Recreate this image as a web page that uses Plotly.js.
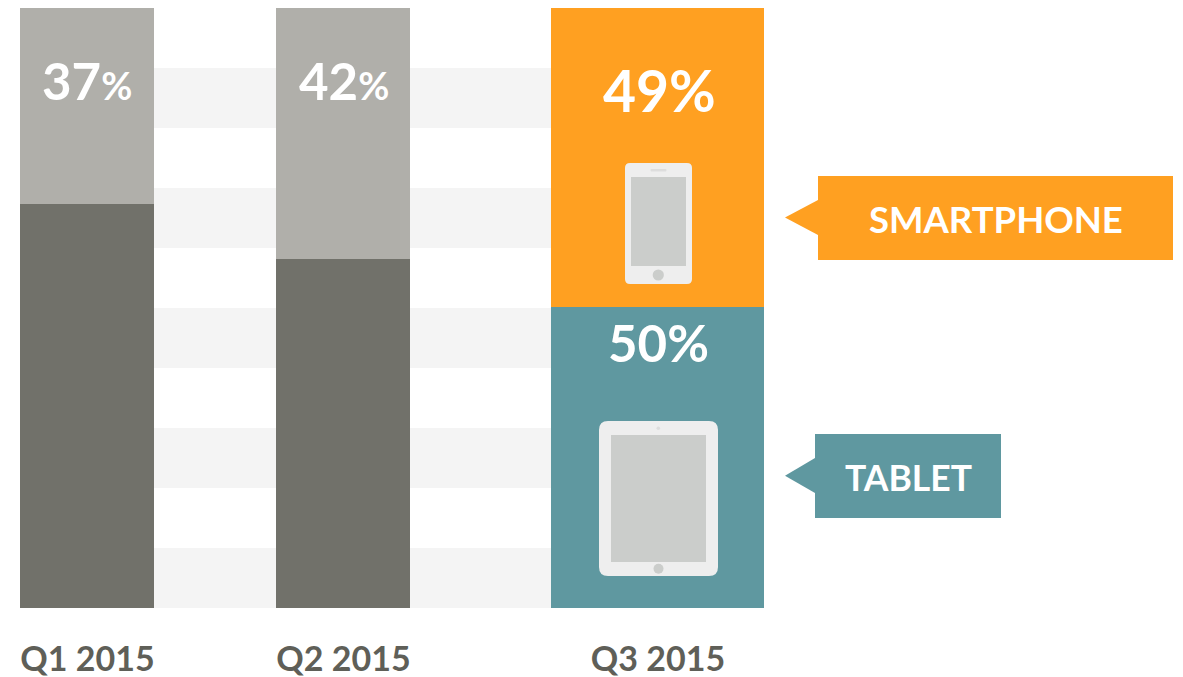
<!DOCTYPE html>
<html>
<head>
<meta charset="utf-8">
<script src="https://cdn.plot.ly/plotly-3.0.1.min.js"></script>
<style>html,body{margin:0;padding:0;background:#fff;overflow:hidden}#chart{width:1183px;height:677px}</style>
</head>
<body>
<div id="chart"></div>
<script>
// Data
const quarters = ['Q1 2015', 'Q2 2015', 'Q3 2015'];
const tabletShare = [67.3, 58.2, 50.2];
const smartphoneShare = [32.7, 41.8, 49.8];
const smartphoneLabels = ['37%', '42%', '49%'];
const tabletLabel = '50%';
const seriesNames = ['TABLET', 'SMARTPHONE'];

// Layout of the bars (x axis is in px)
const barCentres = [87, 343, 657.5];
const barWidths = [134, 134, 213];
const ORANGE = '#ffa021', TEAL = '#5f98a0', DARK = '#71716a', LIGHT = '#b0afaa';
const FONT = 'Lato, sans-serif';

const py = p => (608 - p) / 6;            // px row -> y axis value
const rr = (x0, y0, x1, y1, r) => {       // rounded rectangle
  const X = v => v, Y = py;
  return `M${X(x0 + r)},${Y(y0)} L${X(x1 - r)},${Y(y0)} Q${X(x1)},${Y(y0)} ${X(x1)},${Y(y0 + r)} ` +
    `L${X(x1)},${Y(y1 - r)} Q${X(x1)},${Y(y1)} ${X(x1 - r)},${Y(y1)} L${X(x0 + r)},${Y(y1)} ` +
    `Q${X(x0)},${Y(y1)} ${X(x0)},${Y(y1 - r)} L${X(x0)},${Y(y0 + r)} Q${X(x0)},${Y(y0)} ${X(x0 + r)},${Y(y0)} Z`;
};
const box = (x0, y0, x1, y1, color, layer) => ({type: 'rect', xref: 'x', yref: 'y', x0, x1, y0: py(y0), y1: py(y1),
  fillcolor: color, line: {width: 0}, layer: layer || 'above'});
const path = (d, color) => ({type: 'path', xref: 'x', yref: 'y', path: d, fillcolor: color, line: {width: 0}, layer: 'above'});
const circle = (cx, cy, r, color) => ({type: 'circle', xref: 'x', yref: 'y', x0: cx - r, x1: cx + r, y0: py(cy + r), y1: py(cy - r),
  fillcolor: color, line: {width: 0}, layer: 'above'});
const tri = (tx, ty, bx, b0, b1, color) => path(`M${tx},${py(ty)} L${bx},${py(b0)} L${bx},${py(b1)} Z`, color);

const shapes = [];
// striped background
[[68, 128], [188, 248], [308, 368], [428, 488], [548, 608]].forEach(b => shapes.push(box(20, b[0], 551, b[1], '#f4f4f4', 'below')));
// phone icon
shapes.push(path(rr(625, 163, 692, 284, 5), '#eeeeee'), box(631, 177, 686, 266, '#cbcdcb'),
  path(rr(650.5, 169, 666.5, 171.5, 1), '#dddddd'), circle(658.3, 275, 5.6, '#cbcdcb'));
// tablet icon
shapes.push(path(rr(599, 421, 718, 576, 9), '#eeeeee'), box(611, 435, 706, 562, '#cbcdcb'),
  circle(658.3, 428.3, 1.8, '#dddddd'), circle(658.5, 568.7, 5, '#cbcdcb'));
// callouts
shapes.push(box(818, 176, 1173, 260, ORANGE), tri(785, 217.5, 818, 200, 235, ORANGE));
shapes.push(box(815, 434, 1001, 518, TEAL), tri(785, 475.7, 815, 458, 493, TEAL));

const note = (text, x, p, size) => ({text, x, y: py(p), xref: 'x', yref: 'y', showarrow: false,
  xanchor: 'center', yanchor: 'middle', font: {family: FONT, size, color: '#ffffff', weight: 700}});
const pct = (s, size) => s.replace('%', `<span style="font-size:${size}px">%</span>`);

const annotations = [
  note(pct(smartphoneLabels[0], 38), 87, 80, 51),
  note(pct(smartphoneLabels[1], 38), 344, 80, 51),
  note(smartphoneLabels[2], 659, 90, 57),
  note(tabletLabel, 658.5, 342, 51),
  note(seriesNames[1], 995.5, 219, 36.5),
  note(seriesNames[0], 908, 477, 35.5)
];

const common = {type: 'bar', x: barCentres, width: barWidths, hoverinfo: 'skip'};
const traces = [
  Object.assign({}, common, {name: seriesNames[0], y: tabletShare, marker: {color: [DARK, DARK, TEAL], line: {width: 0}}}),
  Object.assign({}, common, {name: seriesNames[1], y: smartphoneShare, marker: {color: [LIGHT, LIGHT, ORANGE], line: {width: 0}}})
];

Plotly.newPlot('chart', traces, {
  width: 1183, height: 677,
  margin: {l: 0, r: 0, t: 8, b: 69, pad: 0},
  paper_bgcolor: '#ffffff', plot_bgcolor: 'rgba(0,0,0,0)',
  barmode: 'stack', showlegend: false,
  xaxis: {range: [0, 1183], tickmode: 'array', tickvals: [87.5, 343.5, 658], ticktext: quarters,
    showgrid: false, zeroline: false, showline: false, ticks: '', ticklabelstandoff: 28,
    tickfont: {family: FONT, size: 34, color: '#5f5f58', weight: 700}, fixedrange: true},
  yaxis: {range: [0, 100], visible: false, fixedrange: true},
  shapes, annotations
}, {displayModeBar: false, staticPlot: true});
</script>
</body>
</html>
